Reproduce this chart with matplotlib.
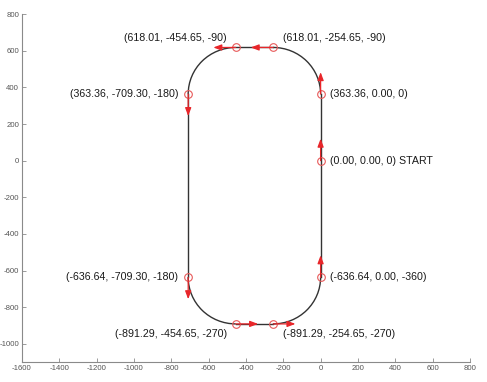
import numpy as np
import matplotlib
matplotlib.use("Agg")
import matplotlib.pyplot as plt
from matplotlib.patches import Arc

# Waypoints: label order is (y, x, heading)
pt_y = [0.00, 363.36, 618.01, 618.01, 363.36, -636.64, -891.29, -891.29, -636.64]
pt_x = [0.00, 0.00, -254.65, -454.65, -709.30, -709.30, -454.65, -254.65, 0.00]
heading = [0, 0, -90, -90, -180, -180, -270, -270, -360]
suffix = [" START", "", "", "", "", "", "", "", ""]
# label placement: (ha, dx_pt, dy_pt)
placement = [("left", 6.5, 0), ("left", 6.5, 0),
             ("left", 7, 6.5), ("right", -6.5, 6.5),
             ("right", -7, 0), ("right", -7, 0),
             ("right", -6.5, -7), ("left", 7, -7),
             ("left", 6.5, 0)]
arc_radius = 254.65
arrow_len = 120

xticks = list(range(-1600, 801, 200))
yticks = list(range(-1000, 801, 200))

plt.rcParams['font.family'] = ['Liberation Sans', 'DejaVu Sans']
plt.rcParams['axes.unicode_minus'] = False

fig = plt.figure(figsize=(4.87, 3.82), dpi=100)
ax = fig.add_axes([0.045, 0.052, 0.92, 0.911])

track_col = '#333333'
lw = 1.0
# straight segments
ax.plot([pt_x[8], pt_x[1]], [pt_y[8], pt_y[1]], color=track_col, lw=lw)
ax.plot([pt_x[2], pt_x[3]], [pt_y[2], pt_y[3]], color=track_col, lw=lw)
ax.plot([pt_x[4], pt_x[5]], [pt_y[4], pt_y[5]], color=track_col, lw=lw)
ax.plot([pt_x[6], pt_x[7]], [pt_y[6], pt_y[7]], color=track_col, lw=lw)
# corner arcs (center x, center y, theta1, theta2)
arcs = [(pt_x[2], pt_y[1], 0, 90), (pt_x[3], pt_y[4], 90, 180),
        (pt_x[6], pt_y[5], 180, 270), (pt_x[7], pt_y[8], 270, 360)]
for cx, cy, t1, t2 in arcs:
    ax.add_patch(Arc((cx, cy), 2 * arc_radius, 2 * arc_radius,
                     theta1=t1, theta2=t2, color=track_col, lw=lw))

red = '#e8262a'
for x, y, h in zip(pt_x, pt_y, heading):
    dx = np.sin(np.radians(h)) * arrow_len
    dy = np.cos(np.radians(h)) * arrow_len
    ax.annotate("", xy=(x + dx, y + dy), xytext=(x, y),
                arrowprops=dict(arrowstyle='-|>,head_length=0.8,head_width=0.3',
                                color=red, lw=0.9, shrinkA=0, shrinkB=0,
                                mutation_scale=6))
ax.plot(pt_x, pt_y, 'o', mfc='none', mec='#e85a5a', ms=5.5, mew=0.8, ls='none')

for x, y, h, s, (ha, ox, oy) in zip(pt_x, pt_y, heading, suffix, placement):
    txt = f"({y:.2f}, {x:.2f}, {h}){s}"
    ax.annotate(txt, xy=(x, y), xytext=(ox, oy), textcoords='offset points',
                ha=ha, va='center', fontsize=7.7, color='#1a1a1a')

ax.set_xlim(-1600, 800)
ax.set_ylim(-1100, 800)
ax.set_xticks(xticks)
ax.set_yticks(yticks)
ax.spines['top'].set_visible(False)
ax.spines['right'].set_visible(False)
for sp in ('left', 'bottom'):
    ax.spines[sp].set_color('#8a8a8a')
    ax.spines[sp].set_linewidth(0.8)
ax.tick_params(direction='in', length=3, width=0.6, color='#8a8a8a',
               labelcolor='#555555', labelsize=5.6, pad=2)

fig.savefig("out.png", dpi=100)
